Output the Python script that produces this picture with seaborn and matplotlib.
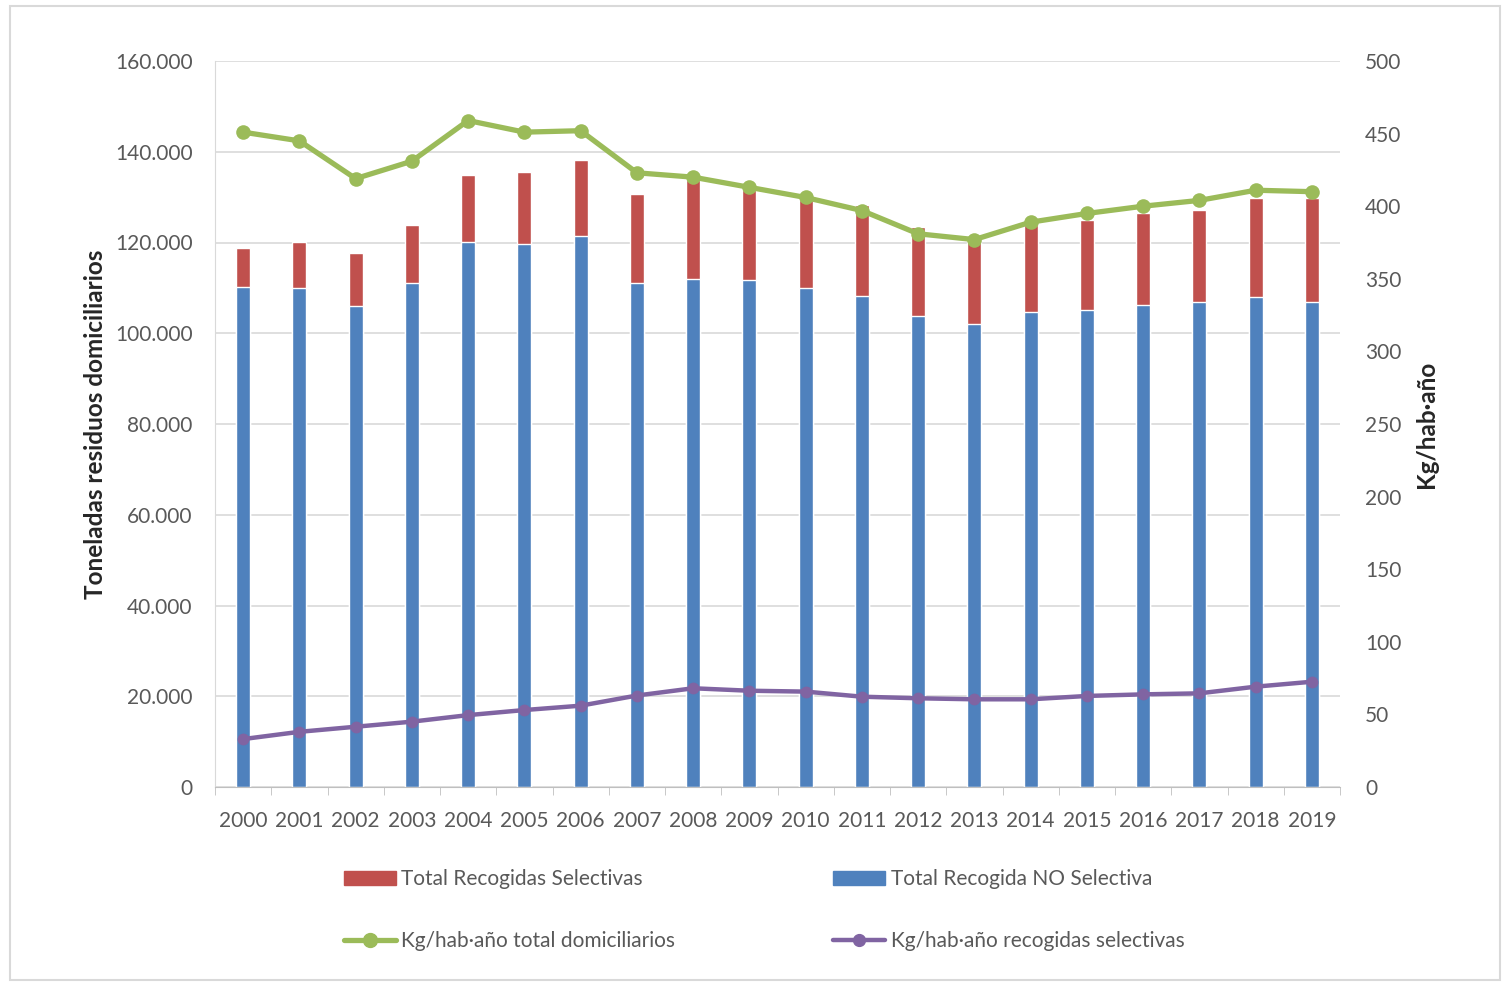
import numpy as np
import pandas as pd
import seaborn as sns
import matplotlib.pyplot as plt
from matplotlib.lines import Line2D
from matplotlib.patches import Patch, Rectangle
from matplotlib.ticker import FuncFormatter, MultipleLocator

# Data
years = [str(y) for y in range(2000, 2020)]
no_selectiva = [110200, 110000, 106000, 111100, 120100, 119600, 121500, 111100, 111900, 111700,
                110000, 108300, 103800, 102100, 104600, 105200, 106300, 106800, 108000, 106800]
selectivas = [8500, 10100, 11600, 12700, 14700, 15900, 16700, 19500, 21900, 19900,
              19400, 20000, 19700, 18100, 19300, 19800, 20100, 20300, 21700, 22900]
kg_total = [451, 445, 419, 431, 459, 451, 452, 423, 420, 413,
            406, 397, 381, 377, 389, 395, 400, 404, 411, 410]
kg_selectivas = [33, 38, 41.5, 45, 49.5, 53, 56, 63, 68, 66.3,
                 65.7, 62.2, 61.1, 60.4, 60.4, 62.7, 63.8, 64.5, 69.1, 72.5]

RED = "#C0504D"
BLUE = "#4F81BD"
GREEN = "#9BBB59"
PURPLE = "#8064A2"
GRAY = "#595959"

sns.set_style("white")
plt.rcParams["font.family"] = ["Lato", "DejaVu Sans"]

df = pd.DataFrame({"year": years, "no_sel": no_selectiva, "sel": selectivas})
df["total"] = df["no_sel"] + df["sel"]

fig = plt.figure(figsize=(15.05, 9.82), dpi=100)
ax = fig.add_axes([215 / 1505, 1 - 787 / 982, (1340 - 215) / 1505, (787 - 61) / 982])

# stacked bars: total in red, then the non-selective part in blue on top of it
sns.barplot(data=df, x="year", y="total", color=RED, saturation=1, width=0.25, ax=ax, zorder=2)
sns.barplot(data=df, x="year", y="no_sel", color=BLUE, saturation=1, width=0.25, ax=ax, zorder=2)

ax.set_ylim(0, 160000)
ax.set_xlim(-0.5, len(years) - 0.5)
ax.yaxis.set_major_locator(MultipleLocator(20000))
ax.yaxis.set_major_formatter(FuncFormatter(lambda v, p: f"{int(v):,}".replace(",", ".")))
ax.grid(axis="y", color="#d9d9d9", linewidth=1.2, zorder=0)
ax.set_axisbelow(True)
for s in ["top", "right"]:
    ax.spines[s].set_visible(False)
ax.spines["left"].set_color("#d9d9d9")
ax.spines["bottom"].set_color("#bfbfbf")
ax.set_xlabel("")
ax.set_ylabel("Toneladas residuos domiciliarios", fontsize=17.5, fontweight="bold", labelpad=6)

# right axis lines
ax2 = ax.twinx()
x = np.arange(len(years))
sns.lineplot(x=x, y=kg_total, color=GREEN, marker="o", markersize=10.5, linewidth=3.8,
             markeredgewidth=0, ax=ax2)
sns.lineplot(x=x, y=kg_selectivas, color=PURPLE, marker="o", markersize=8.5, linewidth=3.2,
             markeredgewidth=0, ax=ax2)
ax2.set_ylim(0, 500)
ax2.yaxis.set_major_locator(MultipleLocator(50))
for s in ["top", "right", "left", "bottom"]:
    ax2.spines[s].set_visible(False)
ax2.set_ylabel("Kg/hab·año", fontsize=17.5, fontweight="bold", labelpad=10)
ax2.tick_params(axis="y", length=0, labelsize=15, labelcolor=GRAY, pad=18)

# x ticks (categories), with Excel-like marks between categories
ax.set_xticks(x)
ax.set_xticklabels(years)
ax.set_xticks(np.arange(-0.5, len(years), 1), minor=True)
ax.tick_params(axis="x", which="major", length=0, labelsize=15, labelcolor=GRAY, pad=17)
ax.tick_params(axis="x", which="minor", length=6, color="#bfbfbf", bottom=True)
ax.tick_params(axis="y", length=0, labelsize=15, labelcolor=GRAY, pad=16)

handles = [
    Patch(color=RED, label="Total Recogidas Selectivas"),
    Line2D([], [], color=GREEN, lw=3.8, marker="o", markersize=10, label="Kg/hab·año total domiciliarios"),
    Patch(color=BLUE, label="Total Recogida NO Selectiva"),
    Line2D([], [], color=PURPLE, lw=3.2, marker="o", markersize=8.5, label="Kg/hab·año recogidas selectivas"),
]
fig.legend(handles=handles, ncol=2, loc="center left", bbox_to_anchor=(325 / 1505, 1 - 910 / 982),
           frameon=False, fontsize=15, labelcolor=GRAY, handlelength=2.5, handleheight=0.7,
           handletextpad=0.25, labelspacing=2.0, columnspacing=7.6)

fig.patches.append(Rectangle((10 / 1505, 2 / 982), 1490 / 1505, 974 / 982, transform=fig.transFigure,
                             fill=False, edgecolor="#d9d9d9", linewidth=1.5))

fig.savefig("out.png", dpi=100)
